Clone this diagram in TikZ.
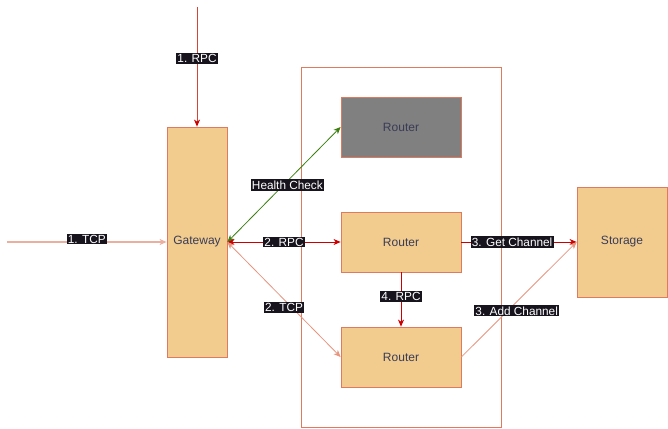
\documentclass[tikz,border=0pt]{standalone}
\usepackage{fontspec}
\setmainfont{Liberation Sans}
\usetikzlibrary{arrows.meta}

\definecolor{boxfill}{HTML}{F2CC8F}
\definecolor{boxline}{HTML}{E07A5F}
\definecolor{boxtext}{HTML}{393C56}
\definecolor{downgray}{HTML}{808080}
\definecolor{rpcred}{HTML}{CC0000}
\definecolor{checkgreen}{HTML}{3A7F10}
\definecolor{labelbg}{HTML}{18141D}

\tikzset{
	unit/.style={draw=boxline, fill=boxfill, text=boxtext, font=\fontsize{12}{14}\selectfont, line width=0.8pt},
	tag/.style={fill=labelbg, text=white, inner sep=1.3pt, font=\fontsize{11.8}{13}\selectfont},
	tip/.style={-{Stealth[length=7pt, width=6pt, inset=2pt]}},
	redtip/.style={-{Stealth[length=7pt, width=6pt, inset=2pt, color=rpcred]}},
	tips/.style={{Stealth[length=7pt, width=6pt, inset=2pt]}-{Stealth[length=7pt, width=6pt, inset=2pt]}},
}

\begin{document}
\begin{tikzpicture}[x=1pt, y=-1pt]
		\useasboundingbox (0, 0) rectangle (668, 428);
		\draw[boxline, line width=0.8pt] (301, 67) rectangle (501, 427);
		\node[unit, minimum width=60pt, minimum height=230pt]  (gw) at (197, 242) {Gateway};
		\node[unit, fill=downgray, minimum width=120pt, minimum height=60pt]  (r1) at (401, 127) {Router};
		\node[unit, minimum width=120pt, minimum height=60pt]  (r2) at (401, 242) {Router};
		\node[unit, minimum width=120pt, minimum height=60pt]  (r3) at (401, 357) {Router};
		\node[unit, minimum width=90pt, minimum height=110pt]  (st) at (622, 242) {Storage};
		\coordinate (top) at (197, 7);
		\coordinate (left) at (7, 242);
		
		\draw[line width=1pt, rpcred!45!boxline, redtip] (top) to node[tag, pos=0.43] {1. RPC} (gw);
		\draw[line width=1.2pt, boxline!60, tip] (left) to node[tag, yshift=3pt] {1. TCP} (gw);
		\draw[line width=0.8pt, checkgreen, tips] (gw.east) to node[tag, pos=0.53, yshift=-4pt] {Health Check} (r1.west);
		\draw[line width=0.8pt, rpcred, tips] (gw.east) to node[tag] {2. RPC} (r2);
		\draw[line width=0.8pt, boxline!80, tips] (gw.east) to node[tag, yshift=-8pt] {2. TCP} (r3.west);
		\draw[line width=0.8pt, rpcred, tip] (r2) to node[tag, pos=0.44] {3. Get Channel} (st);
		\draw[line width=0.8pt, boxline!80, tip] (r3.east) to node[tag, pos=0.48, yshift=-9pt] {3. Add Channel} (st.west);
		\draw[line width=0.8pt, rpcred, tip] (r2) to node[tag, pos=0.44] {4. RPC} (r3);
		
	\end{tikzpicture}
\end{document}
